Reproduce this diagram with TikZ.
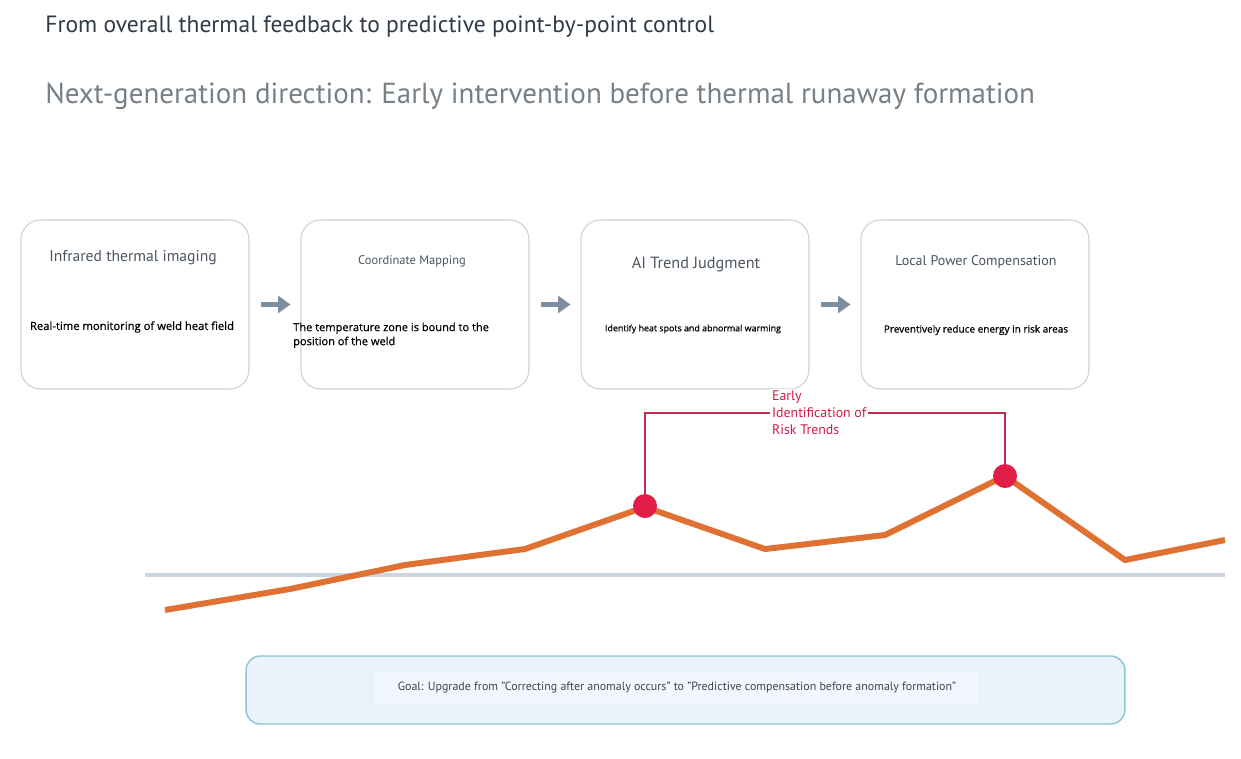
\documentclass[tikz,border=0pt]{standalone}
\usepackage{fontspec}
\setmainfont{PT Sans}
\newfontfamily\descfont{Open Sans}[RawFeature={embolden=0.7}]
\usetikzlibrary{arrows.meta}
\definecolor{cardborder}{HTML}{C9D2DA}
\definecolor{cardtitle}{HTML}{4B5662}
\definecolor{headtext}{HTML}{2F3B47}
\definecolor{subhead}{HTML}{778087}
\definecolor{flowgrey}{HTML}{7D8EA0}
\definecolor{riskred}{HTML}{BE2C4E}
\definecolor{risklabel}{HTML}{D41A47}
\definecolor{dotred}{HTML}{E11D48}
\definecolor{trendorange}{HTML}{DF7233}
\definecolor{axisgrey}{HTML}{CDD6E0}
\definecolor{goalfill}{HTML}{EAF3FB}
\definecolor{goalband}{HTML}{F1F7FD}
\definecolor{goalborder}{HTML}{8FC3D6}
\definecolor{goaltext}{HTML}{3C4650}
\tikzset{
  card/.style={rectangle, rounded corners=11pt, draw=cardborder, line width=0.6pt, fill=white, minimum width=4.56cm, minimum height=3.38cm},
  cardhead/.style={font=\fontsize{8.9}{10}\selectfont, text=cardtitle},
  carddesc/.style={font=\descfont\fontsize{6.4}{8}\selectfont, text=black, align=left},
  flowarrow/.style={-{Triangle[length=7pt, width=9.5pt]}, line width=2.8pt, draw=flowgrey, shorten <=0.22cm, shorten >=0.2cm},
  bracket/.style={line width=1.6pt, draw=riskred},
  peak/.style={circle, fill=dotred, minimum size=0.48cm, inner sep=0pt},
  trend/.style={line width=3.4pt, draw=trendorange},
  refline/.style={line width=2.8pt, draw=axisgrey},
}

\begin{document}
\begin{tikzpicture}[x=0.02cm, y=-0.02cm]
\useasboundingbox[fill=white] (0,0) rectangle (1241,758);

% ===== Headings =====
\node[anchor=west, inner sep=0pt, font=\fontsize{13.4}{15}\selectfont, text=headtext] (heading) at (45,26.5) {From overall thermal feedback to predictive point-by-point control};
\node[anchor=west, inner sep=0pt, font=\fontsize{16.5}{19}\selectfont, text=subhead] (subheading) at (45,96) {Next-generation direction: Early intervention before thermal runaway formation};

% ===== Process cards =====
\node[card] (imaging) at (135,304.5) {};
\node[card] (mapping) at (415,304.5) {};
\node[card] (judgment) at (695,304.5) {};
\node[card] (compensation) at (975,304.5) {};

\node[cardhead] at (133,258) {Infrared thermal imaging};
\node[cardhead, font=\fontsize{7.1}{8}\selectfont] at (412,261) {Coordinate Mapping};
\node[cardhead, font=\fontsize{9.25}{10}\selectfont] at (696,264) {AI Trend Judgment};
\node[cardhead, font=\fontsize{8.0}{9}\selectfont] at (976,262) {Local Power Compensation};

\node[carddesc] at (132,327) {Real-time monitoring of weld heat field};
\node[carddesc, anchor=north west, font=\descfont\fontsize{6.3}{8}\selectfont] at (287,316.5) {The temperature zone is bound to the\\position of the weld};
\node[carddesc, font=\descfont\fontsize{5.05}{7}\selectfont] at (693,329) {Identify heat spots and abnormal warming};
\node[carddesc, font=\descfont\fontsize{5.7}{7}\selectfont] at (976,330) {Preventively reduce energy in risk areas};

\draw[flowarrow] (imaging) -- (mapping);
\draw[flowarrow] (mapping) -- (judgment);
\draw[flowarrow] (judgment) -- (compensation);

% ===== Trend curve =====
\draw[refline] (145,575) -- (1225,575);
\draw[trend] plot coordinates {(165,610) (290,589) (405,565) (525,549) (645,507) (765,549) (885,535) (1005,476) (1125,560) (1225,540)};

\coordinate (peakA) at (645,506);
\coordinate (peakB) at (1005,476);
\coordinate (level) at (0,413);
\draw[bracket] (peakA) -- (peakA |- level) -- (peakB |- level) -- (peakB);
\node[anchor=north west, fill=white, inner sep=1pt, align=left, text=risklabel, font=\fontsize{7.9}{9.6}\selectfont] (risk) at (770,389) {Early\\Identification of\\Risk Trends};
\node[peak] (dotA) at (peakA) {};
\node[peak] (dotB) at (peakB) {};

% ===== Goal =====
\node[rectangle, rounded corners=8pt, draw=goalborder, line width=0.8pt, fill=goalfill, minimum width=17.58cm, minimum height=1.36cm] (goal) at (685.5,690) {};
\node[fill=goalband, minimum width=12.1cm, minimum height=0.66cm, text=goaltext, font=\fontsize{6.8}{8}\selectfont] (goaltext) at (677,688) {Goal: Upgrade from "Correcting after anomaly occurs" to "Predictive compensation before anomaly formation"};

\end{tikzpicture}
\end{document}
